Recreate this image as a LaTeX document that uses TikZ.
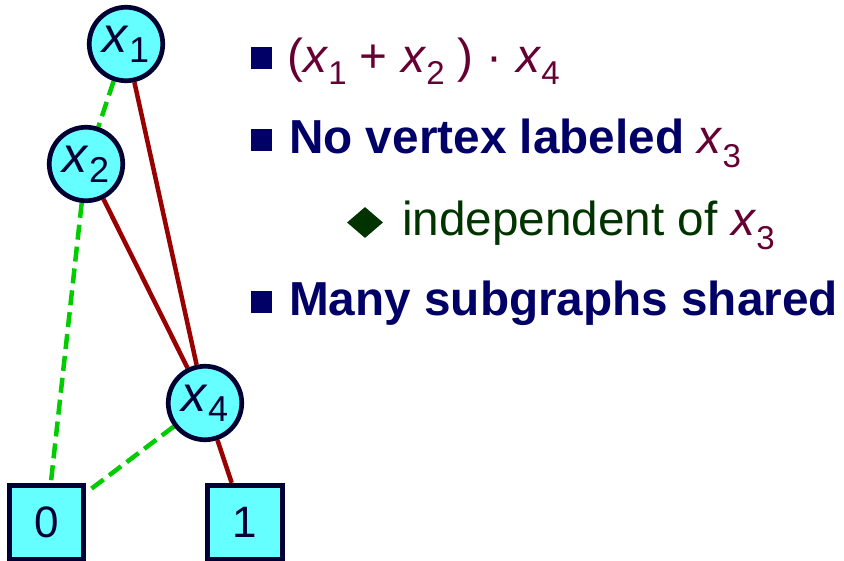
\documentclass[tikz,border=0pt]{standalone}
\usepackage{fontspec}
\setmainfont{Liberation Sans}
\usetikzlibrary{backgrounds,shapes.geometric}
\definecolor{nodefill}{HTML}{66FFFF}
\definecolor{nodeline}{HTML}{000033}
\definecolor{hiedge}{HTML}{990000}
\definecolor{loedge}{HTML}{00CC00}
\definecolor{navy}{HTML}{000066}
\definecolor{maroon}{HTML}{660033}
\definecolor{dgreen}{HTML}{003300}
\newcommand\mysub[2][12pt]{\raisebox{-#1}{\fontsize{33}{33}\selectfont #2}}
\newcommand\nodesub[1]{\raisebox{-10pt}{\fontsize{36}{36}\selectfont #1}}
\tikzset{
  vertex/.style={circle, draw=nodeline, fill=nodefill, line width=4.7pt,
    minimum size=73.5pt, inner sep=0pt, text=nodeline,
    font=\fontsize{50}{50}\selectfont},
  terminal/.style={rectangle, draw=nodeline, fill=nodefill, line width=4.7pt,
    minimum size=74.5pt, inner sep=0pt, text=nodeline,
    font=\fontsize{44}{44}\selectfont},
  hi/.style={draw=hiedge, line width=4.5pt},
  lo/.style={draw=loedge, line width=4.5pt, dash pattern=on 15pt off 7pt},
  bulletsq/.style={rectangle, fill=navy, minimum width=21pt, minimum height=22pt, inner sep=0pt},
  bulletdia/.style={diamond, fill=dgreen, minimum width=36pt, minimum height=31pt, inner sep=0pt},
  linetext/.style={anchor=base west, inner sep=0pt, font=\fontsize{47.7}{56}\selectfont}
}
\begin{document}
\begin{tikzpicture}[x=1pt,y=-1pt]
\useasboundingbox (0,0) rectangle (844,560);
% vertices
\node[vertex] (x1) at (126,44) {\textit{x}\nodesub{1}};
\node[vertex] (x2) at (86,164) {\textit{x}\nodesub{2}};
\node[vertex] (x4) at (205,403) {\textit{x}\nodesub{4}};
\node[terminal] (t0) at (46.5,522.5) {0};
\node[terminal] (t1) at (245,522.5) {1};
% edges
\begin{scope}[on background layer]
\draw[lo] (x1) -- (x2);
\draw[hi] (x1) -- (x4);
\draw[hi] (x2) -- (x4);
\draw[lo] (x2) -- (t0);
\draw[lo] (x4) -- (t0);
\draw[hi] (x4) -- (t1);
\end{scope}
% bullets
\node[bulletsq] (b1) at (261.5,58) {};
\node[bulletsq] (b2) at (261.5,140) {};
\node[bulletdia] (b3) at (365,222.5) {};
\node[bulletsq] (b4) at (261.5,302) {};
% text lines
\node[linetext, text=maroon] (l1) at (287,72)
  {(\textit{x}\mysub{1} + \textit{x}\mysub{2} ) · \textit{x}\mysub{4}};
\node[linetext, text=navy] (l2) at (289,153)
  {\textbf{No vertex labeled} \textcolor{maroon}{\textit{x}\mysub[14pt]{3}}};
\node[linetext, text=dgreen] (l3) at (402,235)
  {independent of \textcolor{maroon}{\textit{x}\mysub[14pt]{3}}};
\node[linetext, text=navy] (l4) at (289,315) {\textbf{Many subgraphs shared}};
\end{tikzpicture}
\end{document}
